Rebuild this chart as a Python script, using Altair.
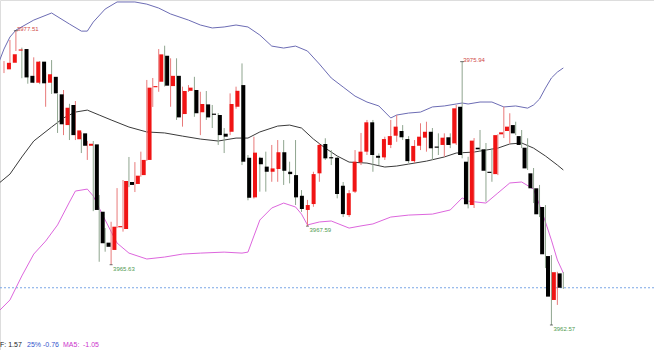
import altair as alt
import pandas as pd

# ---- candle data ----
open_ = [3975.55, 3975.88, 3976.50, 3976.58, 3975.22, 3974.87, 3975.94, 3974.87, 3975.17, 3974.28,
         3972.72, 3973.74, 3972.00, 3972.30, 3971.67, 3971.74, 3968.32, 3966.75, 3966.38, 3967.53,
         3967.44, 3969.83, 3969.73, 3970.18, 3970.95, 3974.64, 3974.92, 3976.24, 3974.70, 3975.22,
         3973.28, 3974.46, 3974.50, 3973.37, 3973.77, 3973.27, 3973.23, 3972.28, 3972.38, 3973.65,
         3974.75, 3971.06, 3969.05, 3971.06, 3970.61, 3970.35, 3970.49, 3971.34, 3970.35, 3970.18,
         3969.13, 3968.41, 3968.71, 3970.27, 3971.76, 3971.08, 3971.06, 3969.64, 3968.15, 3969.34,
         3970.83, 3971.37, 3972.86, 3971.16, 3971.08, 3971.71, 3972.18, 3972.42, 3972.01, 3970.89,
         3971.67, 3972.08, 3972.38, 3971.62, 3971.71, 3972.10, 3971.79, 3973.65, 3970.86, 3968.66,
         3971.57, 3971.49, 3970.35, 3970.23, 3972.25, 3972.42, 3972.72, 3972.16, 3971.57, 3970.27,
         3969.51, 3968.56, 3966.07, 3963.84, 3965.19]
high = [3975.97, 3977.04, 3977.51, 3976.65, 3975.25, 3976.16, 3975.97, 3975.40, 3976.02, 3974.30,
        3974.50, 3973.80, 3973.94, 3972.35, 3971.91, 3971.91, 3969.17, 3967.49, 3967.81, 3969.52,
        3969.93, 3971.10, 3970.84, 3971.37, 3975.01, 3975.11, 3976.58, 3976.75, 3976.11, 3976.11,
        3974.67, 3974.75, 3975.17, 3974.41, 3974.45, 3973.74, 3973.33, 3972.57, 3974.33, 3974.67,
        3975.85, 3971.20, 3972.13, 3971.11, 3971.37, 3971.71, 3971.96, 3971.96, 3970.86, 3971.96,
        3969.42, 3968.92, 3970.35, 3971.79, 3972.05, 3971.45, 3971.11, 3969.83, 3969.42, 3971.45,
        3972.32, 3972.98, 3972.98, 3971.28, 3972.13, 3972.98, 3973.23, 3972.72, 3972.16, 3971.96,
        3972.81, 3972.89, 3972.57, 3972.30, 3972.30, 3972.30, 3973.74, 3975.94, 3971.11, 3972.06,
        3972.47, 3971.81, 3971.54, 3972.25, 3973.65, 3973.32, 3972.89, 3972.47, 3972.05, 3970.54,
        3969.68, 3968.66, 3966.12, 3965.27, 3965.25]
low = [3975.36, 3975.82, 3976.48, 3975.10, 3974.82, 3974.85, 3974.80, 3973.65, 3974.30, 3972.32,
       3972.21, 3971.96, 3971.96, 3971.30, 3970.95, 3968.35, 3965.78, 3966.29, 3965.63, 3967.49,
       3967.31, 3969.57, 3969.32, 3970.10, 3970.90, 3973.64, 3974.41, 3974.68, 3973.65, 3972.98,
       3972.64, 3974.40, 3973.14, 3972.21, 3972.98, 3972.57, 3971.71, 3971.30, 3972.21, 3973.55,
       3970.69, 3968.90, 3968.99, 3969.34, 3969.34, 3969.84, 3969.84, 3969.68, 3969.76, 3968.66,
       3968.31, 3967.59, 3968.57, 3969.84, 3970.95, 3970.69, 3969.00, 3968.05, 3968.05, 3969.27,
       3970.69, 3971.20, 3970.35, 3970.69, 3970.95, 3971.55, 3971.87, 3971.96, 3970.79, 3970.79,
       3971.45, 3971.37, 3970.95, 3971.20, 3971.11, 3971.55, 3971.71, 3971.03, 3968.49, 3968.51,
       3971.35, 3968.83, 3969.84, 3970.18, 3972.06, 3971.79, 3972.21, 3971.55, 3970.44, 3968.76,
       3968.05, 3965.46, 3962.57, 3963.59, 3964.40]
close = [3975.88, 3976.31, 3976.55, 3975.14, 3974.87, 3975.94, 3974.84, 3975.30, 3974.33, 3972.76,
         3973.60, 3972.21, 3972.45, 3971.67, 3971.77, 3968.41, 3966.72, 3966.54, 3967.56, 3967.59,
         3969.88, 3969.68, 3970.15, 3970.95, 3974.62, 3974.69, 3976.31, 3974.72, 3975.22, 3973.11,
         3974.45, 3974.62, 3973.32, 3973.79, 3973.11, 3973.24, 3972.21, 3972.13, 3973.79, 3974.46,
         3970.86, 3969.03, 3971.32, 3970.73, 3970.35, 3970.52, 3971.34, 3970.40, 3970.23, 3969.05,
         3968.46, 3968.66, 3970.23, 3971.71, 3971.03, 3971.03, 3969.22, 3968.20, 3969.26, 3970.86,
         3971.37, 3972.86, 3971.20, 3971.06, 3972.01, 3972.16, 3972.64, 3972.10, 3970.89, 3971.66,
         3972.13, 3972.38, 3971.54, 3971.57, 3972.08, 3971.71, 3973.57, 3971.20, 3968.70, 3971.93,
         3971.49, 3970.40, 3970.29, 3972.21, 3972.35, 3972.64, 3972.30, 3971.71, 3970.52, 3969.51,
         3968.19, 3966.16, 3964.01, 3965.25, 3964.46]

# ---- Bollinger bands (at candle positions) ----
upper_idx = [-1, 0, 1, 2, 5, 8, 11, 13, 14, 15, 17, 19, 22, 24, 26, 28, 31, 33, 35, 37, 39, 41, 43, 45,
             47, 49, 51, 53, 55, 57, 59, 61, 63, 65, 66, 68, 70, 72, 74, 76, 77, 78, 80, 82, 84, 86,
             88, 89, 90, 91, 92, 93, 94]
upper_val = [3975.80, 3976.58, 3977.19, 3977.54, 3978.05, 3978.41, 3977.85, 3977.49, 3977.49, 3977.95,
             3978.61, 3978.97, 3978.97, 3978.86, 3978.66, 3978.36, 3978.05, 3977.80, 3977.65, 3977.70,
             3977.80, 3977.70, 3977.29, 3976.73, 3976.63, 3976.73, 3976.48, 3975.82, 3975.11, 3974.65,
             3974.19, 3973.89, 3973.69, 3973.08, 3973.23, 3973.33, 3973.38, 3973.64, 3973.69, 3973.79,
             3973.84, 3973.79, 3973.89, 3973.89, 3973.64, 3973.69, 3973.58, 3973.74, 3974.04, 3974.60,
             3975.11, 3975.41, 3975.62]
mid_idx = [-1, 1, 3, 5, 8, 10, 12, 14, 16, 18, 21, 24, 27, 30, 33, 36, 39, 41, 43, 46, 48, 50, 52,
           54, 56, 58, 61, 64, 66, 68, 71, 74, 76, 79, 81, 83, 85, 87, 89, 91, 93, 94]
mid_val = [3969.73, 3970.23, 3971.10, 3971.91, 3972.62, 3973.08, 3973.38, 3973.48, 3973.23, 3972.98,
           3972.62, 3972.37, 3972.32, 3972.16, 3972.01, 3971.91, 3972.06, 3972.06, 3972.37, 3972.67,
           3972.72, 3972.57, 3972.01, 3971.55, 3971.15, 3970.84, 3970.79, 3970.59, 3970.64, 3970.74,
           3970.89, 3971.10, 3971.30, 3971.35, 3971.45, 3971.55, 3971.76, 3971.81, 3971.55, 3971.15,
           3970.69, 3970.44]
lower_idx = [-1, 1, 3, 5, 7, 9, 11, 12, 14, 15, 17, 19, 21, 24, 27, 30, 33, 37, 40, 41, 42, 43, 45,
             47, 49, 50, 51, 53, 55, 58, 60, 62, 65, 68, 72, 75, 77, 78, 81, 83, 85, 87, 89, 90, 91,
             92, 93, 94]
lower_val = [3963.23, 3963.84, 3965.06, 3966.17, 3966.83, 3967.65, 3968.81, 3969.37, 3969.47, 3969.12,
             3967.90, 3966.73, 3966.22, 3965.92, 3966.02, 3966.17, 3966.22, 3966.27, 3966.22, 3966.27,
             3967.09, 3967.90, 3968.51, 3968.76, 3968.56, 3968.20, 3967.65, 3967.80, 3967.85, 3967.49,
             3967.60, 3967.70, 3968.05, 3968.15, 3968.20, 3968.41, 3969.02, 3968.86, 3968.76, 3969.27,
             3969.78, 3969.83, 3969.47, 3968.66, 3967.80, 3966.88, 3965.87, 3965.21]

high_marks_idx = [2, 77]
high_marks_val = [3977.51, 3975.94]
low_marks_idx = [18, 51, 92]
low_marks_val = [3965.63, 3967.59, 3962.57]

footer_texts = ["F: 1.57", "25%", "-0.76", "MA5:", "-1.05"]
footer_colors = ["#222222", "#3355cc", "#3355cc", "#cc33cc", "#cc33cc"]
footer_x = [0, 27, 43, 63, 83]

# ---- tables ----
n = len(open_)
candles = pd.DataFrame({"i": list(range(n)), "open": open_, "high": high, "low": low, "close": close})
candles["up"] = [c >= o for o, c in zip(open_, close)]
lo_b = [min(o, c) for o, c in zip(open_, close)]
hi_b = [max(o, c) for o, c in zip(open_, close)]
candles["b_lo"] = lo_b
candles["b_hi"] = [max(h, l + 0.06) for h, l in zip(hi_b, lo_b)]
up_c = candles[candles["up"]]
dn_c = candles[~candles["up"]]

xs = alt.Scale(domain=[-0.672, 109.24], nice=False, zero=False)
ys = alt.Scale(domain=[3961.30, 3979.07], nice=False, zero=False)
X = alt.X("i:Q", scale=xs, axis=None)
Y = alt.Y("v:Q", scale=ys, axis=None)


def band(idx, vals, color):
    df = pd.DataFrame({"i": idx, "v": vals})
    return alt.Chart(df).mark_line(strokeWidth=1, clip=True, color=color).encode(x=X, y=Y)


upper_line = band(upper_idx, upper_val, "#6c6cb4")
mid_line = band(mid_idx, mid_val, "#3a3a3a")
lower_line = band(lower_idx, lower_val, "#dd66dd")

last = pd.DataFrame({"v": [close[-1]]})
dotted = alt.Chart(last).mark_rule(color="#7aa6e6", strokeDash=[2, 2], strokeWidth=1).encode(
    y=Y, x=alt.value(0), x2=alt.value(654))


def wick(df, color):
    return alt.Chart(df).mark_rule(strokeWidth=1, color=color).encode(
        x=X, y=alt.Y("low:Q", scale=ys, axis=None), y2="high:Q")


def body(df, color):
    return alt.Chart(df).mark_bar(size=4, color=color).encode(
        x=X, y=alt.Y("b_lo:Q", scale=ys, axis=None), y2="b_hi:Q")


hl = pd.DataFrame({"i": high_marks_idx, "v": high_marks_val, "t": [f"{v:.2f}" for v in high_marks_val]})
ll = pd.DataFrame({"i": low_marks_idx, "v": low_marks_val, "t": [f"{v:.2f}" for v in low_marks_val]})

hi_tick = alt.Chart(hl).mark_tick(orient="horizontal", size=4, thickness=1, color="#333333").encode(x=X, y=Y)
lo_tick = alt.Chart(ll).mark_tick(orient="horizontal", size=3, thickness=1, color="#333333").encode(x=X, y=Y)
hi_text = alt.Chart(hl).mark_text(align="left", baseline="bottom", dx=1, dy=1, fontSize=6,
                                  font="Liberation Sans", color="#d04848").encode(x=X, y=Y, text="t:N")
lo_text = alt.Chart(ll).mark_text(align="left", baseline="top", dx=2, dy=1, fontSize=6,
                                  font="Liberation Sans", color="#4f9a4f").encode(x=X, y=Y, text="t:N")

footer_df = pd.DataFrame({"t": footer_texts, "c": footer_colors, "px": footer_x})
footer = alt.Chart(footer_df).mark_text(align="left", baseline="top", fontSize=7, font="Liberation Sans").encode(
    x=alt.X("px:Q", scale=alt.Scale(domain=[0, 654], range=[0, 654], nice=False, zero=False), axis=None),
    y=alt.value(341), text="t:N",
    color=alt.Color("c:N", scale=None, legend=None),
)

chart = alt.layer(
    upper_line, mid_line, lower_line, dotted,
    wick(up_c, "#e87a7a"), wick(dn_c, "#8fa58f"),
    body(up_c, "#f01414"), body(dn_c, "#000000"),
    hi_tick, lo_tick, hi_text, lo_text, footer,
).resolve_scale(x="independent").properties(
    width=654, height=350, padding=0, autosize=alt.AutoSizeParams(type="none")
).configure_view(strokeWidth=0).configure(background="white")

chart.save("out.html", embed_options={"renderer": "svg", "actions": False})
